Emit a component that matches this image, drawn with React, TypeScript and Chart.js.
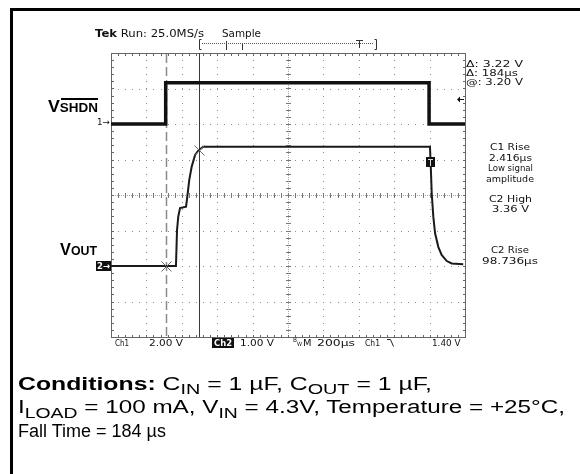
import React, { useEffect, useLayoutEffect, useRef } from "react";
import { Chart, registerables } from "chart.js";

Chart.register(...registerables);

// ---- Scope settings ----
const timeRange = [0, 2000]; // µs, 200 µs/div, 10 divisions
const timeDivision = 200;
const ch1Range = [-12, 4]; // V, 2.00 V/div (ground 2 div above centre)
const ch2Range = [-2, 6]; // V, 1.00 V/div (ground 2 div below centre)
const ch2Division = 1;

// ---- Traces ----
const ch1Time = [0, 309, 309, 1797, 1797, 2000];
const ch1Volts = [0, 0, 2.32, 2.32, 0, 0];

const ch2Time = [0, 367, 373, 380, 390, 405, 424, 431, 442, 456, 475, 493, 521, 1802, 1806, 1812, 1821, 1831, 1849, 1868, 1897, 1925, 1990];
const ch2Volts = [0, 0, 1.01, 1.39, 1.63, 1.65, 1.67, 1.95, 2.42, 2.8, 3.13, 3.25, 3.36, 3.36, 2.89, 2.05, 1.39, 0.92, 0.54, 0.31, 0.14, 0.07, 0.05];

// ---- Cursors & markers ----
const cursorTimes = [309, 496];
const crossTimes = [309, 496];
const crossVolts = [0, 3.27];
const triggerTime = 1802;
const triggerMarkVolt = 2.93;
const triggerLevelCh1 = 1.4;

// ---- Text ----
const headerTek = "Tek";
const headerRun = "Run: 25.0MS/s";
const headerMode = "Sample";
const cursorReadouts = ["\u0394: 3.22 V", "\u0394: 184\u00b5s", "@: 3.20 V"];
const measC1 = ["C1 Rise", "2.416\u00b5s", "Low signal", "amplitude"];
const measC2High = ["C2 High", "3.36 V"];
const measC2Rise = ["C2 Rise", "98.736\u00b5s"];
const statusCh1 = ["Ch1", "2.00 V"];
const statusCh2 = ["Ch2", "1.00 V"];
const statusTime = ["M", "200\u00b5s"];
const statusTrig = ["Ch1", "1.40 V"];

const SCOPE_FONT = "'DejaVu Sans', sans-serif";
const BODY_FONT = "'Liberation Sans', Arial, sans-serif";

const graticulePlugin = {
  id: "graticule",
  beforeDatasetsDraw(chart: any) {
    const { ctx, chartArea: a, scales } = chart;
    const sx = scales.x;
    const sy = scales.y2;
    const px = (v: number) => Math.round(sx.getPixelForValue(v));
    const py = (v: number) => Math.round(sy.getPixelForValue(v));
    const xMinor = timeDivision / 5;
    const yMinor = ch2Division / 5;
    const tMid = (timeRange[0] + timeRange[1]) / 2;
    const vMid = (ch2Range[0] + ch2Range[1]) / 2;
    ctx.save();
    ctx.fillStyle = "#8c8c8c";
    for (let t = timeRange[0] + timeDivision; t < timeRange[1] - 1; t += timeDivision) {
      if (Math.abs(t - tMid) < 1) continue;
      for (let v = ch2Range[0] + yMinor; v < ch2Range[1] - 0.01; v += yMinor) {
        ctx.fillRect(px(t), py(v), 1, 1);
      }
    }
    for (let v = ch2Range[0] + ch2Division; v < ch2Range[1] - 0.01; v += ch2Division) {
      if (Math.abs(v - vMid) < 0.01) continue;
      for (let t = timeRange[0] + xMinor; t < timeRange[1] - 1; t += xMinor) {
        ctx.fillRect(px(t), py(v), 1, 1);
      }
    }
    const cx = px(tMid);
    const cy = py(vMid);
    ctx.fillStyle = "#a8a8a8";
    for (let y = a.top; y < a.bottom; y += 2) ctx.fillRect(cx, y, 1, 1);
    for (let x = a.left; x < a.right; x += 2) ctx.fillRect(x, cy, 1, 1);
    ctx.fillStyle = "#777";
    for (let v = ch2Range[0] + yMinor; v < ch2Range[1] - 0.01; v += yMinor) {
      ctx.fillRect(cx - 2, py(v), 5, 1);
    }
    for (let t = timeRange[0] + xMinor; t < timeRange[1] - 1; t += xMinor) {
      ctx.fillRect(px(t), cy - 2, 1, 5);
    }
    const L = px(timeRange[0]);
    const R = px(timeRange[1]);
    const T = py(ch2Range[1]);
    const B = py(ch2Range[0]);
    ctx.strokeStyle = "#666";
    ctx.lineWidth = 1;
    ctx.strokeRect(L + 0.5, T + 0.5, R - L, B - T);
    ctx.fillStyle = "#666";
    for (let t = timeRange[0] + xMinor; t < timeRange[1] - 1; t += xMinor) {
      ctx.fillRect(px(t), T, 1, 3);
      ctx.fillRect(px(t), B - 2, 1, 3);
    }
    for (let v = ch2Range[0] + yMinor; v < ch2Range[1] - 0.01; v += yMinor) {
      ctx.fillRect(L, py(v), 3, 1);
      ctx.fillRect(R - 2, py(v), 3, 1);
    }
    const c0 = px(cursorTimes[0]) + 0.5;
    ctx.strokeStyle = "#8a8a8a";
    ctx.lineWidth = 1.5;
    ctx.setLineDash([9, 4]);
    ctx.beginPath();
    ctx.moveTo(c0, T + 1);
    ctx.lineTo(c0, B);
    ctx.stroke();
    ctx.setLineDash([]);
    const c1 = px(cursorTimes[1]) + 0.5;
    ctx.strokeStyle = "#3a3a3a";
    ctx.lineWidth = 1;
    ctx.beginPath();
    ctx.moveTo(c1, T);
    ctx.lineTo(c1, B);
    ctx.stroke();
    ctx.restore();
  },
  afterDatasetsDraw(chart: any) {
    const { ctx, chartArea: a, scales } = chart;
    const sx = scales.x;
    const sy2 = scales.y2;
    const sy1 = scales.y1;
    ctx.save();
    ctx.strokeStyle = "#666";
    ctx.lineWidth = 1;
    crossTimes.forEach((t, i) => {
      const x = Math.round(sx.getPixelForValue(t)) + 0.5;
      const y = Math.round(sy2.getPixelForValue(crossVolts[i])) + 0.5;
      ctx.beginPath();
      ctx.moveTo(x - 5, y - 5);
      ctx.lineTo(x + 5, y + 5);
      ctx.moveTo(x - 5, y + 5);
      ctx.lineTo(x + 5, y - 5);
      ctx.stroke();
    });
    const tx = Math.round(sx.getPixelForValue(triggerTime));
    const ty = Math.round(sy2.getPixelForValue(triggerMarkVolt));
    ctx.fillStyle = "#111";
    ctx.fillRect(tx - 4, ty - 5, 9, 10);
    ctx.fillStyle = "#ddd";
    ctx.fillRect(tx - 2, ty - 3, 5, 1);
    ctx.fillRect(tx, ty - 3, 1, 7);
    const ly = Math.round(sy1.getPixelForValue(triggerLevelCh1)) + 0.5;
    const rx = Math.round(a.right);
    ctx.strokeStyle = "#111";
    ctx.fillStyle = "#111";
    ctx.beginPath();
    ctx.moveTo(rx - 6, ly);
    ctx.lineTo(rx - 1, ly);
    ctx.stroke();
    ctx.beginPath();
    ctx.moveTo(rx - 8, ly);
    ctx.lineTo(rx - 5, ly - 3);
    ctx.lineTo(rx - 5, ly + 3);
    ctx.closePath();
    ctx.fill();
    const by = 43.5;
    ctx.strokeStyle = "#333";
    ctx.lineWidth = 1;
    ctx.beginPath();
    ctx.moveTo(201.5, 39.5);
    ctx.lineTo(199.5, 39.5);
    ctx.lineTo(199.5, 49.5);
    ctx.lineTo(201.5, 49.5);
    ctx.moveTo(374.5, 39.5);
    ctx.lineTo(376.5, 39.5);
    ctx.lineTo(376.5, 49.5);
    ctx.lineTo(374.5, 49.5);
    ctx.moveTo(226.5, 41);
    ctx.lineTo(226.5, 50);
    ctx.moveTo(242.5, 43);
    ctx.lineTo(242.5, 50);
    ctx.moveTo(356, 40.5);
    ctx.lineTo(363, 40.5);
    ctx.moveTo(359.5, 40.5);
    ctx.lineTo(359.5, 48);
    ctx.stroke();
    ctx.fillStyle = "#555";
    for (let x = 202; x < 374; x += 2) ctx.fillRect(x, by - 0.5, 1, 1);
    ctx.strokeStyle = "#222";
    ctx.beginPath();
    ctx.moveTo(387, 339.5);
    ctx.lineTo(390.5, 339.5);
    ctx.lineTo(393.5, 346.5);
    ctx.stroke();
    ctx.restore();
  },
};

// Text placed by baseline; `w` = target rendered width (text is stretched to it)
const Txt = ({ x, cx, b, fs, w, children, family = SCOPE_FONT, weight = 400, style = {} }: any) => (
  <div
    data-fit={w}
    style={{
      position: "absolute",
      left: cx !== undefined ? cx - w / 2 : x,
      top: b - 0.846 * fs,
      fontSize: fs,
      lineHeight: 1,
      fontFamily: family,
      fontWeight: weight,
      whiteSpace: "nowrap",
      color: "#111",
      transformOrigin: "0 0",
      ...style,
    }}
  >
    {children}
  </div>
);

const Sub = ({ children }: any) => (
  <span style={{ fontSize: "0.8em", position: "relative", top: "0.3em" }}>{children}</span>
);

export default function App() {
  const canvasRef = useRef<HTMLCanvasElement | null>(null);
  const boxRef = useRef<HTMLDivElement | null>(null);

  useLayoutEffect(() => {
    const fit = () => {
      const root = boxRef.current;
      if (!root) return;
      root.querySelectorAll<HTMLElement>("[data-fit]").forEach((el) => {
        const target = parseFloat(el.dataset.fit || "");
        if (!target) return;
        el.style.transform = "none";
        const nat = el.getBoundingClientRect().width;
        if (nat > 0) el.style.transform = `scaleX(${target / nat})`;
      });
    };
    fit();
    const f = (document as any).fonts;
    if (f && f.ready) f.ready.then(fit);
  }, []);

  useEffect(() => {
    const canvas = canvasRef.current;
    if (!canvas) return;
    const chart = new Chart(canvas, {
      type: "line",
      data: {
        datasets: [
          {
            label: "Ch1 VSHDN",
            data: ch1Time.map((t, i) => ({ x: t, y: ch1Volts[i] })),
            borderColor: "#111",
            borderWidth: 3.5,
            pointRadius: 0,
            tension: 0,
            yAxisID: "y1",
          },
          {
            label: "Ch2 VOUT",
            data: ch2Time.map((t, i) => ({ x: t, y: ch2Volts[i] })),
            borderColor: "#1a1a1a",
            borderWidth: 2,
            pointRadius: 0,
            tension: 0,
            yAxisID: "y2",
          },
        ],
      },
      options: {
        animation: false,
        responsive: false,
        devicePixelRatio: 1,
        layout: { padding: { left: 111, top: 53, right: 115, bottom: 137 } },
        plugins: { legend: { display: false }, tooltip: { enabled: false } },
        events: [],
        scales: {
          x: { type: "linear", min: timeRange[0], max: timeRange[1], display: false },
          y1: { type: "linear", min: ch1Range[0], max: ch1Range[1], display: false },
          y2: { type: "linear", min: ch2Range[0], max: ch2Range[1], display: false },
        },
      },
      plugins: [graticulePlugin],
    });
    return () => chart.destroy();
  }, []);

  const cond = { family: BODY_FONT, fs: 18, style: { color: "#000" } };

  return (
    <div ref={boxRef} style={{ position: "fixed", left: 0, top: 0, width: 580, height: 474, background: "#fff", overflow: "hidden" }}>
      <canvas ref={canvasRef} width={580} height={474} style={{ position: "absolute", left: 0, top: 0 }} />
      <div style={{ position: "absolute", left: 10, top: 8, width: 600, height: 500, borderTop: "3px solid #000", borderLeft: "3px solid #000" }} />

      {/* header */}
      <Txt x={95} b={37} fs={10} w={109}>
        <b>{headerTek}</b> {headerRun}
      </Txt>
      <Txt x={222} b={37} fs={10} w={39}>{headerMode}</Txt>

      {/* cursor readouts */}
      {cursorReadouts.map((s, i) => (
        <Txt key={s} x={466} b={67.5 + i * 9} fs={9.5} w={[57, 52, 57][i]}>{s}</Txt>
      ))}

      {/* measurements */}
      {measC1.map((s, i) => (
        <Txt key={s} cx={510} b={150 + i * 10.6} fs={9.5} w={[40, 43, 45, 48][i]}>{s}</Txt>
      ))}
      {measC2High.map((s, i) => (
        <Txt key={s} cx={510} b={202.5 + i * 10} fs={9.5} w={[43, 37][i]}>{s}</Txt>
      ))}
      {measC2Rise.map((s, i) => (
        <Txt key={s} cx={510} b={253.5 + i * 10.5} fs={9.5} w={[38, 56][i]}>{s}</Txt>
      ))}

      {/* channel ground markers */}
      <Txt x={97} b={126} fs={9} w={13}>1→</Txt>
      <div style={{ position: "absolute", left: 96, top: 261, width: 15, height: 10, background: "#111" }} />
      <Txt x={97} b={269.5} fs={9} w={13} style={{ color: "#fff", fontWeight: 700 }}>2→</Txt>

      {/* signal labels */}
      <Txt x={48} b={111.5} fs={16.5} w={50} family={BODY_FONT} weight={700} style={{ color: "#000" }}>
        V<span style={{ fontSize: 12.5 }}>SHDN</span>
      </Txt>
      <div style={{ position: "absolute", left: 61, top: 98, width: 37, height: 1.5, background: "#000" }} />
      <Txt x={60} b={255} fs={16.5} w={37} family={BODY_FONT} weight={700} style={{ color: "#000" }}>
        V<span style={{ fontSize: 12.5 }}>OUT</span>
      </Txt>

      {/* status line */}
      <Txt x={115} b={346} fs={9.2} w={14}>{statusCh1[0]}</Txt>
      <Txt x={149} b={346} fs={9.2} w={34}>{statusCh1[1]}</Txt>
      <div style={{ position: "absolute", left: 212, top: 337.5, width: 22, height: 10, background: "#111" }} />
      <Txt x={214} b={346} fs={9.2} w={18} style={{ color: "#fff", fontWeight: 700 }}>{statusCh2[0]}</Txt>
      <Txt x={240} b={346} fs={9.2} w={34}>{statusCh2[1]}</Txt>
      <Txt x={293} b={342} fs={6} w={4}>B</Txt>
      <Txt x={296.5} b={346} fs={6} w={5}>W</Txt>
      <Txt x={303} b={346} fs={9.2} w={8.5}>{statusTime[0]}</Txt>
      <Txt x={317} b={346} fs={9.2} w={38}>{statusTime[1]}</Txt>
      <Txt x={365} b={346} fs={9.2} w={15}>{statusTrig[0]}</Txt>
      <Txt x={432} b={346} fs={9.2} w={28.5}>{statusTrig[1]}</Txt>

      {/* conditions */}
      <Txt x={18} b={390} w={414} {...cond}>
        <b>Conditions:</b> C<Sub>IN</Sub> = 1 µF, C<Sub>OUT</Sub> = 1 µF,
      </Txt>
      <Txt x={18} b={413.5} w={547} {...cond}>
        I<Sub>LOAD</Sub> = 100 mA, V<Sub>IN</Sub> = 4.3V, Temperature = +25°C,
      </Txt>
      <Txt x={18} b={437} {...cond}>
        Fall Time = 184 µs
      </Txt>
    </div>
  );
}
